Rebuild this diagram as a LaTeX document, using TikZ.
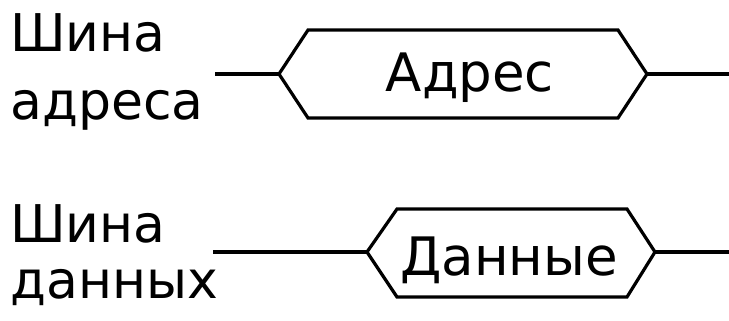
\documentclass[tikz,border=0pt]{standalone}
\usepackage{fontspec}
\setmainfont{DejaVu Sans}
\begin{document}
\begin{tikzpicture}[x=1pt,y=-1pt,
  bus/.style={line width=3.2pt,line join=miter,draw=black},
  lbl/.style={inner sep=0pt,anchor=base west,font=\fontsize{52}{56}\selectfont},
  hexlbl/.style={inner sep=0pt,anchor=base,font=\fontsize{53}{58}\selectfont}]
\useasboundingbox (0,0) rectangle (729,321);
% left labels
\node[lbl] (sa1) at (10,52) {Шина};
\node[lbl] (sa2) at (10,120) {адреса};
\node[lbl] (sd1) at (10,242) {Шина};
\node[lbl] (sd2) at (10,298) {данных};
% address hexagon
\coordinate (aL) at (279,74);
\coordinate (aTL) at (308,30);
\coordinate (aTR) at (618,30);
\coordinate (aR) at (647,74);
\coordinate (aBR) at (618,118);
\coordinate (aBL) at (308,118);
\coordinate (aIn) at (215,74);
\coordinate (aOut) at (729,74);
\draw[bus] (aL) -- (aTL) -- (aTR) -- (aR) -- (aBR) -- (aBL) -- cycle;
\draw[bus] (aIn) -- (aL);
\draw[bus] (aR) -- (aOut);
\node[hexlbl] (atext) at (470,92) {Адрес};
% data hexagon
\coordinate (dL) at (367,252);
\coordinate (dTL) at (397,209);
\coordinate (dTR) at (627,209);
\coordinate (dR) at (655,252);
\coordinate (dBR) at (627,297);
\coordinate (dBL) at (397,297);
\coordinate (dIn) at (213,252);
\coordinate (dOut) at (729,252);
\draw[bus] (dL) -- (dTL) -- (dTR) -- (dR) -- (dBR) -- (dBL) -- cycle;
\draw[bus] (dIn) -- (dL);
\draw[bus] (dR) -- (dOut);
\node[hexlbl] (dtext) at (509,275) {Данные};
\end{tikzpicture}
\end{document}
